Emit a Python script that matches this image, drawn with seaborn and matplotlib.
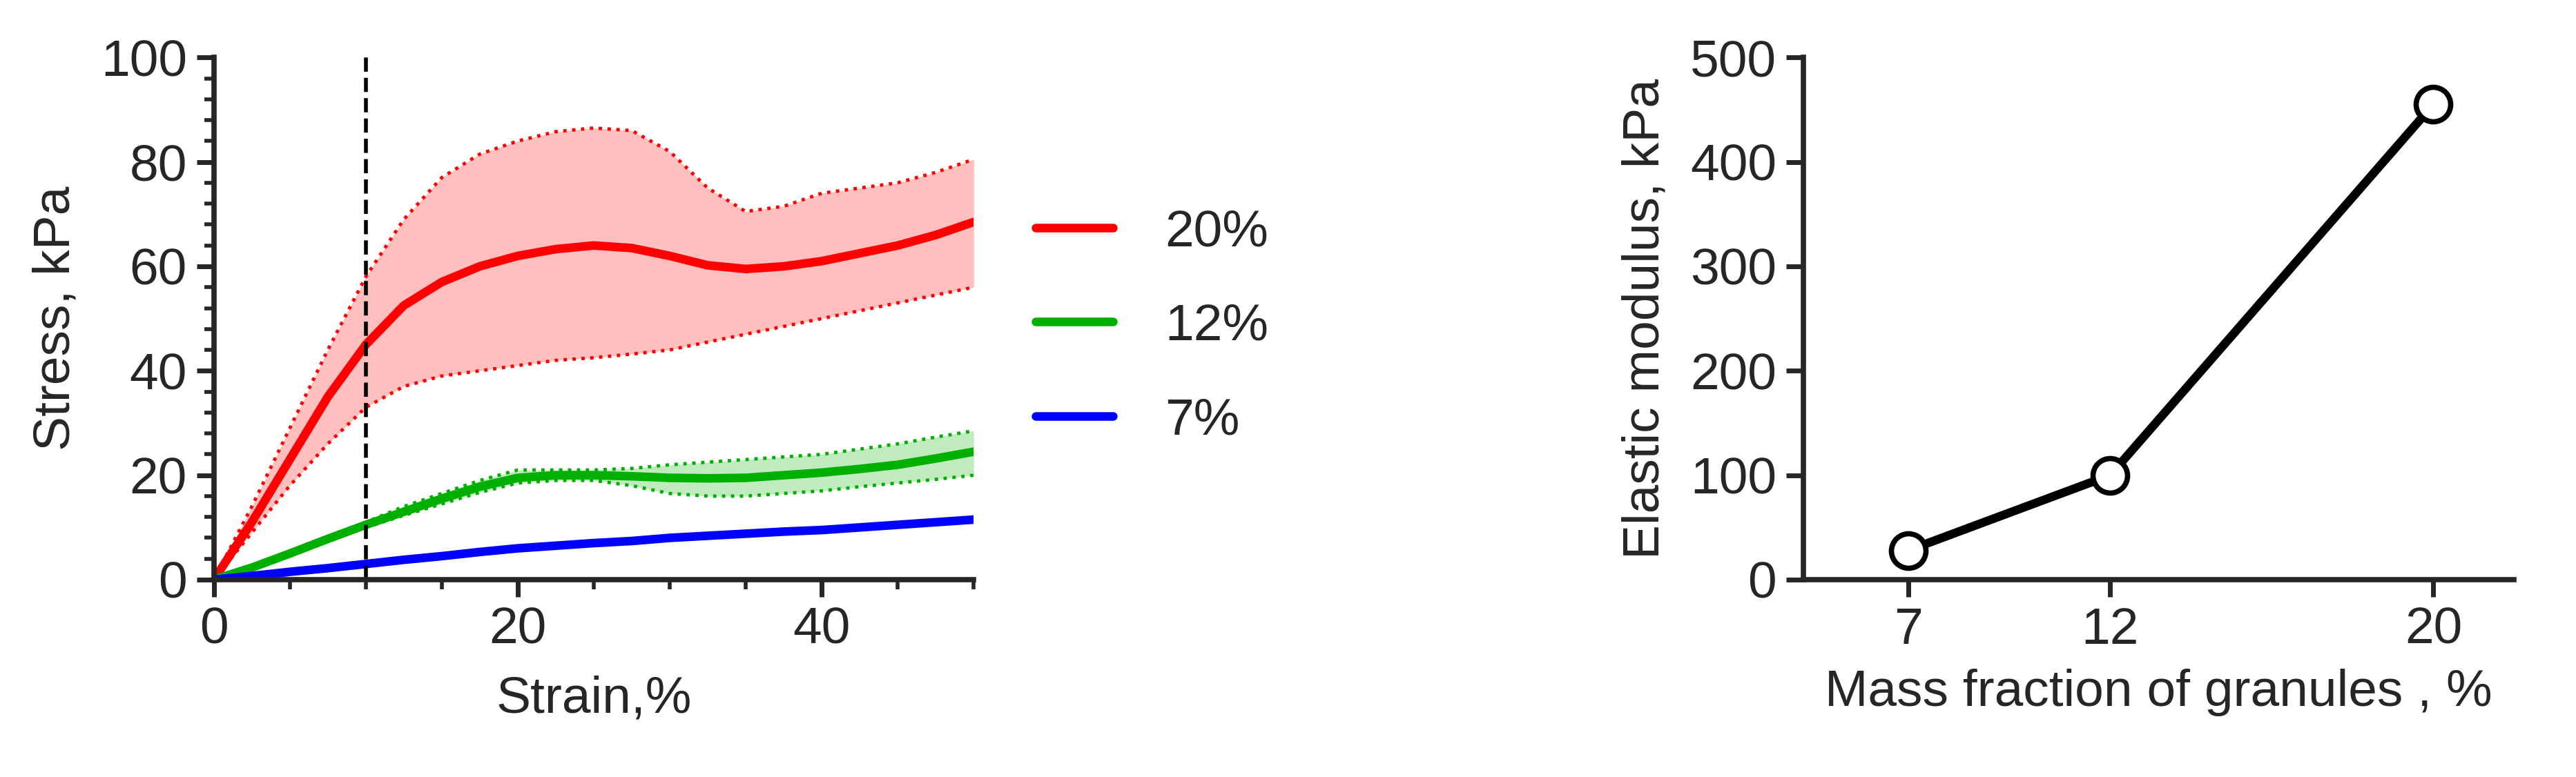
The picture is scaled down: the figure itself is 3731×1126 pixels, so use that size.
import numpy as np
import matplotlib
matplotlib.use('Agg')
import matplotlib.pyplot as plt
import seaborn as sns
from matplotlib.ticker import MultipleLocator

sns.set_theme(style='ticks')
plt.rcParams['font.family'] = ['Liberation Sans', 'DejaVu Sans']

strain = [0, 2.5, 5, 7.5, 10, 12.5, 15, 17.5, 20, 22.5, 25, 27.5, 30, 32.5, 35, 37.5, 40, 42.5, 45, 47.5, 50]
red_mean = [0, 11, 23, 35, 45, 52.5, 57, 60, 62, 63.3, 64, 63.5, 62, 60.2, 59.5, 60, 61, 62.5, 64, 66, 68.5]
red_hi = [0, 14, 29, 44, 58, 69, 77, 81.5, 84, 85.8, 86.5, 86, 82, 75, 70.5, 71.5, 74, 75, 76, 78, 80.5]
red_lo = [0, 9, 18, 26, 33, 37, 39, 40, 41, 42, 42.5, 43.2, 44, 45.5, 47, 48.5, 50, 51.5, 53, 54.5, 56]
green_mean = [0, 2.3, 5, 7.8, 10.5, 13, 15.5, 17.8, 19.5, 20, 20, 19.8, 19.5, 19.4, 19.5, 20, 20.5, 21.2, 22, 23.2, 24.5]
green_hi = [0, 2.6, 5.5, 8.3, 11, 14, 16.5, 19, 21, 21, 21, 21.3, 22, 22.5, 23, 23.5, 24, 25, 26, 27.3, 28.5]
green_lo = [0, 2.1, 4.5, 7.3, 10, 12.3, 14.5, 16.7, 18.5, 19, 19, 18, 16.5, 16, 16, 16.5, 17, 17.8, 18.5, 19.2, 20]
blue_mean = [0, 0.7, 1.5, 2.2, 3, 3.8, 4.5, 5.3, 6, 6.5, 7, 7.4, 8, 8.4, 8.8, 9.2, 9.5, 10, 10.5, 11, 11.5]

fraction = [7, 12, 20]
modulus = [28, 100, 455]

fs = 54
fig = plt.figure(figsize=(37.31, 11.26), dpi=100)
ax1 = fig.add_axes([0.083, 0.254, 0.295, 0.672])
ax2 = fig.add_axes([0.70, 0.254, 0.276, 0.672])

for mean, hi, lo, c, lab in [(red_mean, red_hi, red_lo, '#ff0000', '20%'),
                             (green_mean, green_hi, green_lo, '#00b000', '12%'),
                             (blue_mean, None, None, '#0000ff', '7%')]:
    sns.lineplot(x=strain, y=mean, color=c, lw=9, ax=ax1, label=lab)
    if hi is not None:
        ax1.fill_between(strain, lo, hi, color=c, alpha=0.25, lw=0)
        ax1.plot(strain, hi, color=c, lw=3.5, ls=':')
        ax1.plot(strain, lo, color=c, lw=3.5, ls=':')
ax1.axvline(10, color='black', ls='--', lw=4)
ax1.set_xlim(0, 50)
ax1.set_ylim(0, 100)
ax1.xaxis.set_minor_locator(MultipleLocator(5))
ax1.yaxis.set_minor_locator(MultipleLocator(4))
ax1.set_xlabel('Strain,%', fontsize=fs, labelpad=22)
ax1.set_ylabel('Stress, kPa', fontsize=fs, labelpad=22)
ax1.legend(loc='upper left', bbox_to_anchor=(1.02, 0.8), frameon=False,
           fontsize=fs, handlelength=1.5, labelspacing=0.9, handletextpad=1.0)

sns.lineplot(x=fraction, y=modulus, color='black', lw=9, ax=ax2,
             marker='o', markersize=36, markerfacecolor='white',
             markeredgecolor='black', markeredgewidth=5.5)
ax2.set_xlim(4.4, 22)
ax2.set_ylim(0, 500)
ax2.set_xticks(fraction)
ax2.set_yticks([0, 100, 200, 300, 400, 500])
ax2.set_xlabel('Mass fraction of granules , %', fontsize=fs, labelpad=15)
ax2.set_ylabel('Elastic modulus, kPa', fontsize=fs, labelpad=22)

for ax in (ax1, ax2):
    sns.despine(ax=ax)
    ax.tick_params(labelsize=fs, width=5, length=18, direction='out', pad=10)
    ax.tick_params(which='minor', width=4, length=10)
    for s in ('left', 'bottom'):
        ax.spines[s].set_linewidth(5.5)

fig.savefig('out.png', dpi=100)
